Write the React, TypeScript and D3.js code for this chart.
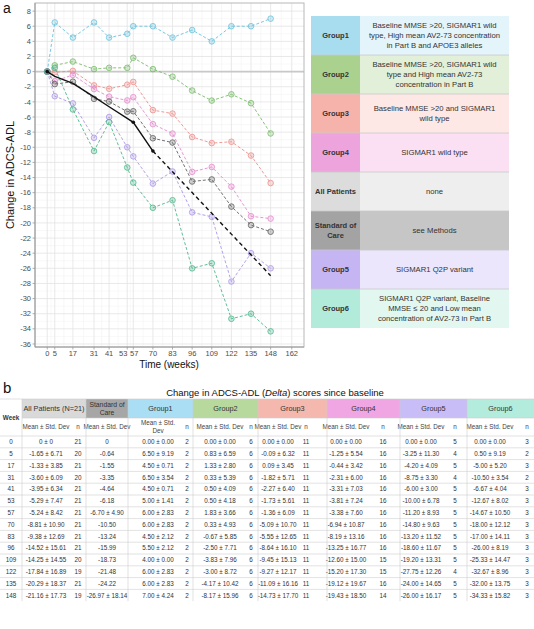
import React from "react";
import * as d3 from "d3";

const weeks = [0, 5, 17, 31, 41, 53, 57, 70, 83, 96, 109, 122, 135, 148];
const xTicks = [0, 5, 17, 31, 41, 53, 57, 70, 83, 96, 109, 122, 135, 148, 162];
const yTicks = d3.range(-36, 9, 2);

const apMean = [0, -1.65, -1.33, -3.6, -3.95, -5.29, -5.24, -8.81, -9.38, -14.52, -14.25, -17.84, -20.29, -21.16];
const apSd = [0, 6.71, 3.85, 6.09, 6.34, 7.47, 8.42, 10.9, 12.69, 15.61, 14.55, 16.89, 18.37, 17.73];
const apN = [21, 20, 21, 20, 21, 21, 21, 21, 21, 21, 20, 19, 21, 19];

const socMean = [0, -0.64, -1.55, -3.35, -4.64, -6.18, -6.7, -10.5, -13.24, -15.99, -18.73, -21.48, -24.22, -26.97];
const socSd: (number | null)[] = [null, null, null, null, null, null, 4.9, null, null, null, null, null, null, 18.14];

const g1Mean = [0, 6.5, 4.5, 6.5, 4.5, 5.0, 6.0, 6.0, 4.5, 5.5, 4.0, 6.0, 6.0, 7.0];
const g1Sd = [0, 9.19, 0.71, 3.54, 0.71, 1.41, 2.83, 2.83, 2.12, 2.12, 0.0, 2.83, 2.83, 4.24];
const g1N = [2, 2, 2, 2, 2, 2, 2, 2, 2, 2, 2, 2, 2, 2];

const g2Mean = [0, 0.83, 1.33, 0.33, 0.5, 0.5, 1.83, 0.33, -0.67, -2.5, -3.83, -3.0, -4.17, -8.17];
const g2Sd = [0, 6.59, 2.8, 5.39, 4.09, 4.18, 3.66, 4.93, 5.85, 7.71, 7.96, 8.72, 10.42, 15.96];
const g2N = [6, 6, 6, 6, 6, 6, 6, 6, 6, 6, 6, 6, 6, 6];

const g3Mean = [0, -0.09, 0.09, -1.82, -2.27, -1.73, -1.36, -5.09, -5.55, -8.64, -9.45, -9.27, -11.09, -14.73];
const g3Sd = [0, 6.32, 3.45, 5.71, 6.4, 5.61, 6.09, 10.7, 12.65, 16.1, 15.13, 12.17, 16.16, 17.7];
const g3N = [11, 11, 11, 11, 11, 11, 11, 11, 11, 11, 11, 11, 11, 11];

const g4Mean = [0, -1.25, -0.44, -2.31, -3.31, -3.81, -3.38, -6.94, -8.19, -13.25, -12.6, -15.2, -19.12, -19.43];
const g4Sd = [0, 5.54, 3.42, 6.0, 7.03, 7.24, 7.6, 10.87, 13.16, 16.77, 15.0, 17.3, 19.67, 18.5];
const g4N = [16, 16, 16, 16, 16, 16, 16, 16, 16, 16, 15, 15, 16, 14];

const g5Mean = [0, -3.25, -4.2, -8.75, -6.0, -10.0, -11.2, -14.8, -13.2, -18.6, -19.2, -27.75, -24.0, -26.0];
const g5Sd = [0, 11.3, 4.09, 3.3, 3.0, 6.78, 8.93, 9.63, 11.52, 11.67, 13.31, 12.26, 14.65, 16.17];
const g5N = [5, 4, 5, 4, 5, 5, 5, 5, 5, 5, 5, 4, 5, 5];

const g6Mean = [0, 0.5, -5.0, -10.5, -6.67, -12.67, -14.67, -18.0, -17.0, -26.0, -25.33, -32.67, -32.0, -34.33];
const g6Sd = [0, 9.19, 5.2, 3.54, 4.04, 8.02, 10.5, 12.12, 14.11, 8.19, 14.47, 8.96, 13.75, 15.82];
const g6N = [3, 2, 3, 2, 3, 3, 3, 3, 3, 3, 3, 3, 3, 3];

const seriesNames = ["Group1", "Group2", "Group3", "Group4", "All Patients", "Group5", "Group6"];
const seriesMeans = [g1Mean, g2Mean, g3Mean, g4Mean, apMean, g5Mean, g6Mean];
const seriesColors = ["#62bfdc", "#74b964", "#ec8a86", "#e486cc", "#5a5a5a", "#a893e6", "#45b487"];

const legendLabels = ["Group1", "Group2", "Group3", "Group4", "All Patients", "Standard of\nCare", "Group5", "Group6"];
const legendDescs = [
  ["Baseline MMSE >20, SIGMAR1 wild", "type, High mean AV2-73 concentration", "in Part B and APOE3 alleles"],
  ["Baseline MMSE >20, SIGMAR1 wild", "type and High mean AV2-73", "concentration in Part B"],
  ["Baseline MMSE >20 and SIGMAR1", "wild type"],
  ["SIGMAR1 wild type"],
  ["none"],
  ["see Methods"],
  ["SIGMAR1 Q2P variant"],
  ["SIGMAR1 Q2P variant, Baseline", "MMSE \u2264 20 and Low mean", "concentration of AV2-73 in Part B"],
];
const legendLeftColors = ["#a8dcef", "#abd18f", "#f5b3ac", "#eda3dc", "#dcdcdc", "#a3a3a3", "#c5b5f3", "#b2ebda"];
const legendRightColors = ["#e4f4fb", "#e2efd9", "#fde8e6", "#fbe0f4", "#eeeeee", "#c6c6c6", "#ece6fc", "#e2f7f0"];

const tableHeaders = ["All Patients (N=21)", "Standard of\nCare", "Group1", "Group2", "Group3", "Group4", "Group5", "Group6"];
const tableHeaderColors = ["#d9d9d9", "#a6a6a6", "#a9def5", "#b7d99d", "#f5b8ae", "#f0a6e2", "#c9bdf7", "#b3ecdc"];

const FONT = "'Liberation Sans', Arial, Helvetica, sans-serif";

export default function App() {
  const W = 534, H = 629;
  const pl = 35, pr = 304, pt = 3, pb = 347;
  const x = d3.scaleLinear().domain([-8.1, 170.1]).range([pl, pr]);
  const y = d3.scaleLinear().domain([-36.4, 9.07]).range([pb, pt]);

  const line = d3.line<[number, number]>().x((d) => x(d[0])).y((d) => y(d[1]));
  const xMinor = xTicks.slice(0, -1).map((t, i) => (t + xTicks[i + 1]) / 2);
  const yMinor = yTicks.slice(0, -1).map((t) => t + 1);
  const xLabelNudge = (v: number) => (v === 53 ? -4 : v === 57 ? 1 : 0);

  const socIdx70 = weeks.indexOf(70);
  const socSolid: [number, number][] = weeks.slice(0, socIdx70 + 1).map((w, i) => [w, socMean[i]]);
  const socDashed: [number, number][] = weeks.slice(socIdx70).map((w, i) => [w, socMean[i + socIdx70]]);

  // legend
  const lx0 = 311, lxm = 360, lx1 = 509, ly0 = 16, lh = 39;

  // table
  const fmt = (v: number) => v.toFixed(2);
  const tTop = 399, h1 = 418, h2 = 436, rh = 11.8;
  const tBottom = h2 + rh * weeks.length;
  const cols = [
    { x0: 22, x1: 86, mc: 46, nc: 78 },
    { x0: 86, x1: 128, mc: 107, nc: null as number | null },
    { x0: 128, x1: 193, mc: 158, nc: 187 },
    { x0: 193, x1: 258, mc: 220, nc: 251 },
    { x0: 258, x1: 327, mc: 278, nc: 306 },
    { x0: 327, x1: 400, mc: 346, nc: 383 },
    { x0: 400, x1: 467, mc: 421, nc: 455 },
    { x0: 467, x1: 534, mc: 490, nc: 527 },
  ];
  const tMeans = [apMean, socMean, g1Mean, g2Mean, g3Mean, g4Mean, g5Mean, g6Mean];
  const tSds: (number | null)[][] = [apSd, socSd, g1Sd, g2Sd, g3Sd, g4Sd, g5Sd, g6Sd];
  const tNs: (number[] | null)[] = [apN, null, g1N, g2N, g3N, g4N, g5N, g6N];
  const cellText = (c: number, i: number) => {
    const m = tMeans[c][i];
    const s = tSds[c][i];
    if (c === 0 && i === 0) return "0 \u00b1 0";
    if (c === 1) {
      if (i === 0) return "0";
      return s == null ? fmt(m) : `${fmt(m)} \u00b1 ${fmt(s)}`;
    }
    return `${fmt(m)} \u00b1 ${fmt(s as number)}`;
  };
  const TF = 6.3;

  return (
    <svg width={W} height={H} style={{ position: "absolute", left: 0, top: 0, background: "#fff" }} fontFamily={FONT}>
      {/* panel a */}
      <text x={3} y={13} fontSize={14} fill="#111">a</text>
      <rect x={pl} y={pt} width={pr - pl} height={pb - pt} fill="#fff" />
      {yMinor.map((v) => (
        <line key={"ym" + v} x1={pl} x2={pr} y1={y(v)} y2={y(v)} stroke="#f0f0f0" strokeWidth={0.5} />
      ))}
      {xMinor.map((v) => (
        <line key={"xm" + v} x1={x(v)} x2={x(v)} y1={pt} y2={pb} stroke="#f0f0f0" strokeWidth={0.5} />
      ))}
      {yTicks.map((v) => (
        <line key={"yg" + v} x1={pl} x2={pr} y1={y(v)} y2={y(v)} stroke="#e3e3e3" strokeWidth={0.8} />
      ))}
      {xTicks.map((v) => (
        <line key={"xg" + v} x1={x(v)} x2={x(v)} y1={pt} y2={pb} stroke="#e3e3e3" strokeWidth={0.8} />
      ))}
      <line x1={pl} x2={pr} y1={y(0)} y2={y(0)} stroke="#c8c8c8" strokeWidth={1.6} />
      <rect x={pl} y={pt} width={pr - pl} height={pb - pt} fill="none" stroke="#b8b8b8" strokeWidth={1} />
      <line x1={pl} x2={pl} y1={pt} y2={pb} stroke="#9a9a9a" strokeWidth={1} />
      <line x1={pl} x2={pr} y1={pb} y2={pb} stroke="#9a9a9a" strokeWidth={1} />

      {yTicks.map((v) => (
        <g key={"yt" + v}>
          <line x1={pl - 2.5} x2={pl} y1={y(v)} y2={y(v)} stroke="#999" strokeWidth={0.8} />
          <text x={pl - 4} y={y(v)} dy="0.35em" textAnchor="end" fontSize={7.5} fill="#4d4d4d">{v}</text>
        </g>
      ))}
      {xTicks.map((v) => (
        <g key={"xt" + v}>
          <line x1={x(v)} x2={x(v)} y1={pb} y2={pb + 2.5} stroke="#999" strokeWidth={0.8} />
          <text x={x(v) + xLabelNudge(v)} y={pb + 8.5} textAnchor="middle" fontSize={7.5} fill="#4d4d4d">{v}</text>
        </g>
      ))}
      <text x={169} y={367.5} textAnchor="middle" fontSize={10} fill="#111">Time (weeks)</text>
      <text transform={`translate(14,${(pt + pb) / 2}) rotate(-90)`} textAnchor="middle" fontSize={11} fill="#111">Change in ADCS-ADL</text>

      {seriesMeans.map((ms, si) => {
        const pts: [number, number][] = weeks.map((w, i) => [w, ms[i]]);
        return (
          <g key={"s" + si} opacity={0.85}>
            <path d={line(pts) || ""} fill="none" stroke={seriesColors[si]} strokeWidth={1} strokeDasharray="3,2" />
            {pts.map((p, i) => (
              <circle key={i} cx={x(p[0])} cy={y(p[1])} r={2.8} fill={seriesColors[si]} fillOpacity={0.3} stroke={seriesColors[si]} strokeWidth={0.9} />
            ))}
          </g>
        );
      })}
      <path d={line(socSolid) || ""} fill="none" stroke="#111" strokeWidth={1.4} />
      <path d={line(socDashed) || ""} fill="none" stroke="#111" strokeWidth={1.4} strokeDasharray="4,3" />
      {[0, 57, 70].map((w) => (
        <circle key={"sd" + w} cx={x(w)} cy={y(socMean[weeks.indexOf(w)])} r={1.8} fill="#111" />
      ))}

      {/* legend */}
      {legendLabels.map((lab, i) => {
        const yy = ly0 + i * lh;
        const labLines = lab.split("\n");
        const desc = legendDescs[i];
        const cy = yy + lh / 2;
        return (
          <g key={"lg" + i}>
            <rect x={lx0} y={yy} width={lxm - lx0} height={lh} fill={legendLeftColors[i]} />
            <rect x={lxm} y={yy} width={lx1 - lxm} height={lh} fill={legendRightColors[i]} />
            {i > 0 && <line x1={lx0} x2={lx1} y1={yy} y2={yy} stroke="#c9c9c9" strokeWidth={0.8} />}
            {labLines.map((t, k) => (
              <text key={k} x={(lx0 + lxm) / 2} y={cy + (k - (labLines.length - 1) / 2) * 10} dy="0.35em" textAnchor="middle" fontSize={7.5} fontWeight="bold" fill="#333">{t}</text>
            ))}
            {desc.map((t, k) => (
              <text key={k} x={(lxm + lx1) / 2} y={cy + (k - (desc.length - 1) / 2) * 10} dy="0.35em" textAnchor="middle" fontSize={7.7} fill="#333">{t}</text>
            ))}
          </g>
        );
      })}

      {/* panel b */}
      <text x={3} y={393} fontSize={15} fill="#111">b</text>
      <text x={275} y={395.5} textAnchor="middle" fontSize={9.5} fill="#111">
        Change in ADCS-ADL (<tspan fontStyle="italic">Delta</tspan>) scores since baseline
      </text>
      {cols.map((c, ci) => {
        const hl = tableHeaders[ci].split("\n");
        return (
          <g key={"th" + ci}>
            <rect x={c.x0} y={tTop} width={c.x1 - c.x0} height={h1 - tTop} fill={tableHeaderColors[ci]} />
            {hl.map((t, k) => (
              <text key={k} x={(c.x0 + c.x1) / 2} y={(tTop + h1) / 2 + (k - (hl.length - 1) / 2) * 8} dy="0.35em" textAnchor="middle" fontSize={hl.length > 1 ? 6.8 : 7.3} fill="#333">{t}</text>
            ))}
            {ci === 2 ? (
              <>
                <text x={c.mc} y={423} dy="0.35em" textAnchor="middle" fontSize={TF} fill="#444">Mean ± Std.</text>
                <text x={c.mc} y={431} dy="0.35em" textAnchor="middle" fontSize={TF} fill="#444">Dev</text>
              </>
            ) : (
              <text x={c.mc} y={(h1 + h2) / 2} dy="0.35em" textAnchor="middle" fontSize={TF} fill="#444">Mean ± Std. Dev</text>
            )}
            {c.nc != null && (
              <text x={c.nc} y={(h1 + h2) / 2} dy="0.35em" textAnchor="middle" fontSize={TF} fill="#444">n</text>
            )}
          </g>
        );
      })}
      <text x={11} y={(tTop + h2) / 2} dy="0.35em" textAnchor="middle" fontSize={TF} fontWeight="bold" fill="#333">Week</text>
      <line x1={0} x2={W} y1={tTop} y2={tTop} stroke="#cfcfcf" strokeWidth={0.6} />
      <line x1={22} x2={W} y1={h1} y2={h1} stroke="#cfcfcf" strokeWidth={0.6} />
      {weeks.map((w, i) => {
        const yy = h2 + i * rh;
        return (
          <g key={"tr" + w}>
            <line x1={0} x2={W} y1={yy} y2={yy} stroke="#cfcfcf" strokeWidth={0.6} />
            <text x={11} y={yy + rh / 2} dy="0.35em" textAnchor="middle" fontSize={TF} fill="#333">{w}</text>
            {cols.map((c, ci) => (
              <g key={ci}>
                <text x={c.mc} y={yy + rh / 2} dy="0.35em" textAnchor="middle" fontSize={TF} fill="#333">{cellText(ci, i)}</text>
                {c.nc != null && tNs[ci] && (
                  <text x={c.nc} y={yy + rh / 2} dy="0.35em" textAnchor="middle" fontSize={TF} fill="#333">{(tNs[ci] as number[])[i]}</text>
                )}
              </g>
            ))}
          </g>
        );
      })}
      {[22, 86, 128, 193, 258, 327, 400, 467].map((vx) => (
        <line key={"vl" + vx} x1={vx} x2={vx} y1={tTop} y2={tBottom} stroke="#cfcfcf" strokeWidth={0.6} />
      ))}
    </svg>
  );
}
